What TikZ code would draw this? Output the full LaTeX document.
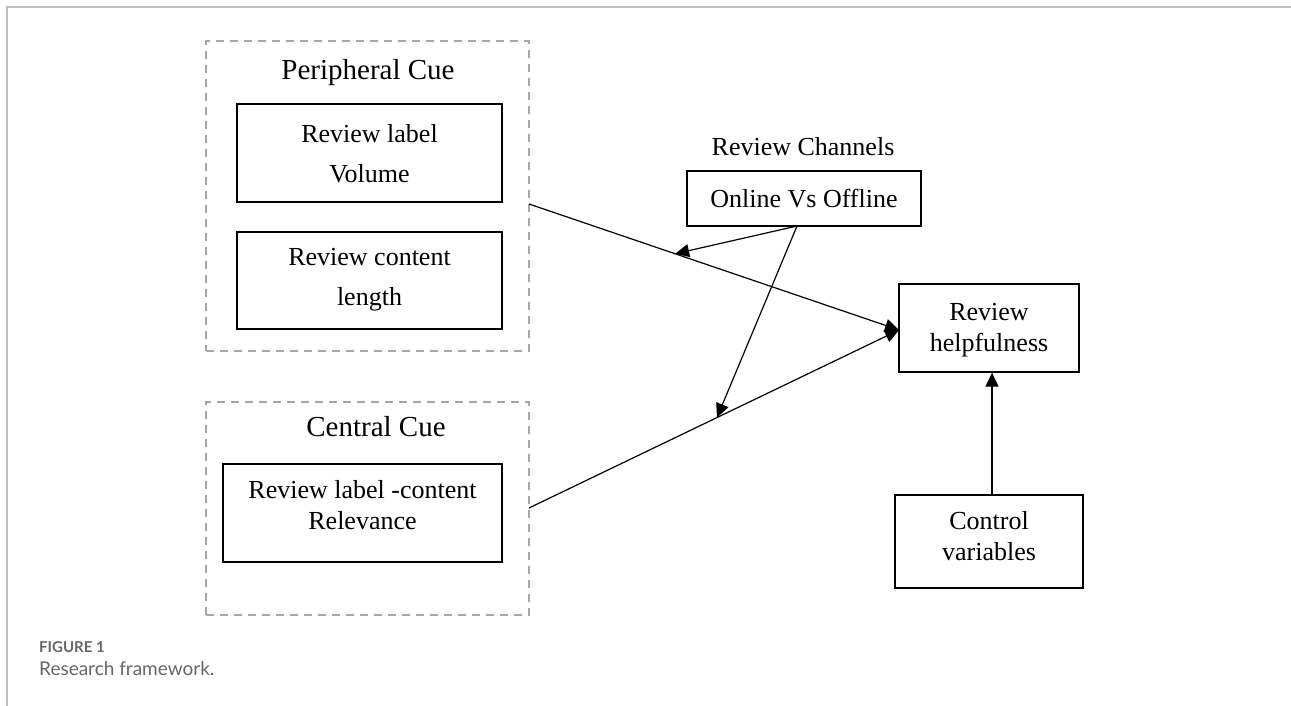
\documentclass[tikz,border=0pt]{standalone}
\usepackage{fontspec}
\setmainfont{Liberation Serif}
\newfontfamily\capfont{Lato}
\usetikzlibrary{arrows.meta,calc}
\begin{document}
\begin{tikzpicture}[x=1pt,y=-1pt,
  frame/.style={draw=black!25, line width=1.5pt},
  cuebox/.style={draw=black!35, dash pattern=on 8pt off 6pt, line width=1.5pt, rectangle, inner sep=0pt},
  varbox/.style={draw=black, line width=1.3pt, rectangle, inner sep=0pt},
  boxtxt/.style={font=\fontsize{26}{40}\selectfont, align=center, inner sep=0pt},
  tighttxt/.style={font=\fontsize{26}{31}\selectfont, align=center, inner sep=0pt},
  cuetitle/.style={font=\fontsize{29}{34}\selectfont, inner sep=0pt},
  conn/.style={-{Triangle[length=14pt,width=13pt]}, line width=1.2pt},
  captxt/.style={anchor=west, inner sep=0pt, text=black!60}
]
\useasboundingbox (0,0) rectangle (1291,706);
\draw[frame] (1291,7) -- (7,7) -- (7,706);

% Peripheral cue
\node[cuebox, minimum width=323pt, minimum height=310pt] (pc) at (367.5,196) {};
\node[cuetitle] (pct) at (368,73) {Peripheral Cue};
\node[varbox, minimum width=265pt, minimum height=98pt] (b1) at (369.5,153) {};
\node[boxtxt] (t1) at (369.5,154) {Review label\\Volume};
\node[varbox, minimum width=265pt, minimum height=97pt] (b2) at (369.5,280.5) {};
\node[boxtxt] (t2) at (369.5,280) {Review content\\length};

% Central cue
\node[cuebox, minimum width=323pt, minimum height=213pt] (cc) at (367.5,508.5) {};
\node[cuetitle] (cct) at (376,427) {Central Cue};
\node[varbox, minimum width=279pt, minimum height=98pt] (b3) at (362.5,513) {};
\node[tighttxt] (t3) at (362.5,505) {Review label -content\\Relevance};

% Channels
\node[boxtxt] (rct) at (803,147) {Review Channels};
\node[varbox, minimum width=234pt, minimum height=55pt] (ch) at (804,198.5) {};
\node[boxtxt] (cht) at (804,198.5) {Online Vs Offline};

% Helpfulness
\node[varbox, minimum width=180pt, minimum height=88pt] (help) at (989,328) {};
\node[tighttxt] (helpt) at (989,330) {Review\\helpfulness};

% Control
\node[varbox, minimum width=188pt, minimum height=93pt] (ctrl) at (989,541.5) {};
\node[tighttxt] (ctrlt) at (989,536) {Control\\variables};

% connectors
\coordinate (p1) at (529,204);
\coordinate (p2) at (529,508);
\coordinate (hin) at (899,330);
\coordinate (chout) at (797,226);
\coordinate (hx) at (992,0);
\draw[conn] (p1) -- (hin);
\draw[conn] (p2) -- (hin);
\draw[conn] (chout) -- ($(p1)!0.395!(hin)$);
\draw[conn] (chout) -- ($(p2)!0.508!(hin)$);
\draw[conn] (ctrl.north -| hx) -- (help.south -| hx);

% caption
\node[captxt, font=\capfont\bfseries\fontsize{15}{18}\selectfont] (fig) at (39,647) {FIGURE 1};
\node[captxt, font=\capfont\fontsize{19}{22}\selectfont] (capt) at (39,669) {Research framework.};
\end{tikzpicture}
\end{document}
